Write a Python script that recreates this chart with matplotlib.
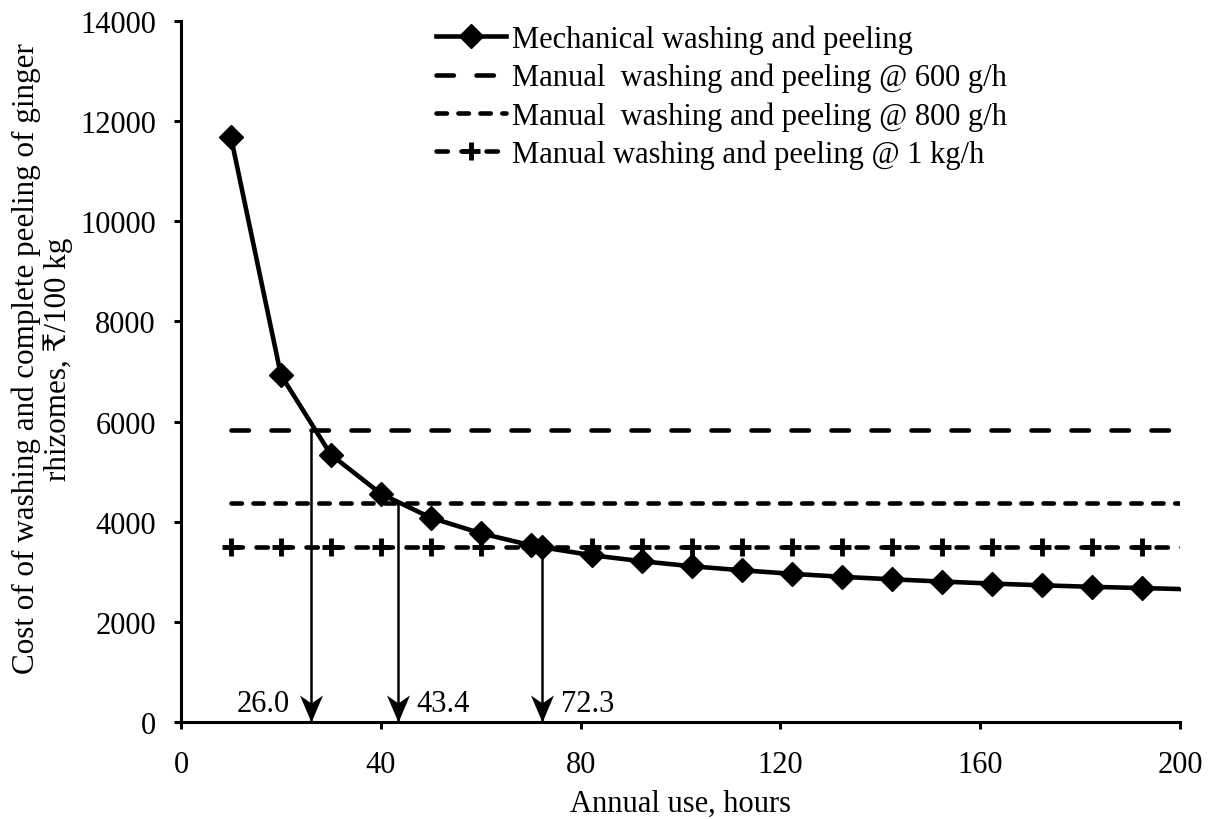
import matplotlib
matplotlib.use("Agg")
import matplotlib.pyplot as plt
import numpy as np
from matplotlib.path import Path

plt.rcParams["font.family"] = ["Liberation Serif", "DejaVu Serif", "DejaVu Sans"]
plt.rcParams["lines.scale_dashes"] = False

# data
hours = [10, 20, 30, 40, 50, 60, 70, 72.3, 82.3, 92.3, 102.3, 112.3, 122.3,
         132.3, 142.3, 152.3, 162.3, 172.3, 182.3, 192.3, 202.3]
mech_cost = [11680, 6930, 5340, 4560, 4080, 3770, 3530, 3490, 3330, 3210, 3110,
             3030, 2960, 2900, 2850, 2805, 2765, 2730, 2700, 2675, 2650]
manual_600 = 5830
manual_800 = 4370
manual_1kg = 3490
cross_hours = [26.0, 43.4, 72.3]
cross_cost = [5830, 4370, 3490]
cross_labels = ["26.0", "43.4", "72.3"]

xticks = [0, 40, 80, 120, 160, 200]
yticks = [0, 2000, 4000, 6000, 8000, 10000, 12000, 14000]

W, H = 1209, 820
fig = plt.figure(figsize=(W / 100, H / 100), dpi=100)
ax = fig.add_axes([181 / W, 1 - 723 / H, (1180 - 181) / W, (723 - 22) / H])

fs = 22
lw = 3.3

ax.plot(hours, mech_cost, color="black", lw=lw, marker="D", ms=12.5,
        label="Mechanical washing and peeling", zorder=5)
ax.plot(hours, np.full(len(hours), manual_600), color="black", lw=lw,
        dashes=(12.5, 16.3), dash_capstyle="round",
        label="Manual  washing and peeling @ 600 g/h")
ax.plot(hours, np.full(len(hours), manual_800), color="black", lw=lw,
        dashes=(7.5, 8.3), dash_capstyle="round",
        label="Manual  washing and peeling @ 800 g/h")
ax.plot(hours, np.full(len(hours), manual_1kg), color="black", lw=lw,
        dashes=(8.2, 9.8), dash_capstyle="round", marker="+", ms=13, mew=3.5,
        label="Manual washing and peeling @ 1 kg/h")

# stealth arrow heads pointing down onto the x axis
head = Path([(0, 0), (-11.5, 27), (0, 19), (11.5, 27), (0, 0)],
            [Path.MOVETO, Path.LINETO, Path.LINETO, Path.LINETO, Path.CLOSEPOLY])
for hx, hc, lab in zip(cross_hours, cross_cost, cross_labels):
    ax.plot([hx, hx], [hc, 0], color="black", lw=1.8, zorder=4)
    ax.plot([hx], [0], marker=head, ms=38.9, color="black", mew=0,
            clip_on=False, zorder=6)
    if lab == "26.0":
        ax.text(hx - 4.3, 360, lab, ha="right", va="center", fontsize=fs)
    else:
        ax.text(hx + 3.7, 360, lab, ha="left", va="center", fontsize=fs)

ax.set_xlim(0, 200)
ax.set_ylim(0, 14000)
ax.set_xticks(xticks)
ax.set_yticks(yticks)
ax.tick_params(direction="out", length=5, width=2.2, labelsize=fs)
ax.tick_params(axis="y", pad=13)
ax.tick_params(axis="x", pad=15)
for s in ["top", "right"]:
    ax.spines[s].set_visible(False)
for s in ["left", "bottom"]:
    ax.spines[s].set_linewidth(2.2)

ax.set_xlabel("Annual use, hours", fontsize=fs, labelpad=7.5)
fig.text(42 / W, 1 - 359 / H,
         "Cost of of washing and complete peeling of ginger\nrhizomes, \u20b9/100 kg",
         rotation=90, ha="center", va="center", multialignment="center",
         fontsize=22.4, linespacing=1.12)

leg = ax.legend(loc="upper left", bbox_to_anchor=(436 / W, 1 - 25.5 / H),
                bbox_transform=fig.transFigure, frameon=False, fontsize=fs,
                borderpad=0, borderaxespad=0, handlelength=2.3,
                handletextpad=0.2, labelspacing=0.29, numpoints=1)

fig.savefig("out.png", dpi=100)
